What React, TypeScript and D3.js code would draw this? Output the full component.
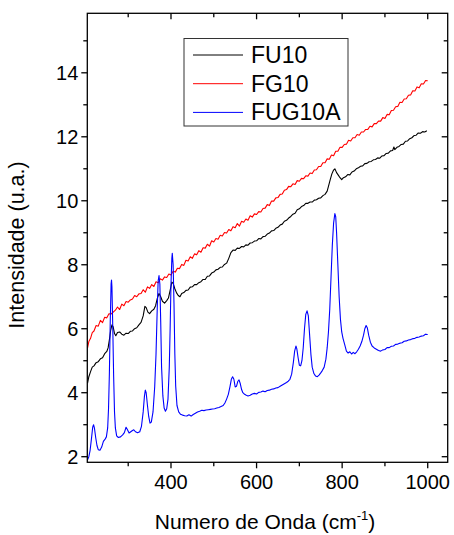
import React from "react";
import * as d3 from "d3";

type P = [number, number];

const fg10: P[] = [
  [205,5.40],[208,5.60],[212,5.70],[216,5.88],[220,5.93],[225,6.10],[230,6.08],[235,6.26],[240,6.19],[245,6.36],
  [250,6.34],[255,6.47],[260,6.46],[265,6.52],[270,6.58],[275,6.68],[280,6.60],[285,6.77],[290,6.72],[295,6.85],
  [300,6.83],[305,6.90],[310,6.93],[315,7.04],[320,7.00],[325,7.09],[330,7.10],[335,7.22],[340,7.14],[345,7.31],
  [350,7.26],[355,7.38],[360,7.32],[365,7.47],[370,7.44],[375,7.56],[380,7.52],[385,7.62],[390,7.60],[395,7.71],
  [400,7.68],[405,7.80],[410,7.77],[415,7.89],[420,7.88],[425,8.01],[430,7.98],[435,8.14],[440,8.12],[445,8.25],
  [450,8.20],[455,8.34],[460,8.31],[465,8.44],[470,8.39],[475,8.53],[480,8.52],[485,8.64],[490,8.58],[495,8.75],
  [500,8.71],[505,8.82],[510,8.80],[515,8.92],[520,8.90],[525,9.01],[530,8.99],[535,9.10],[540,9.06],[545,9.19],
  [550,9.16],[555,9.29],[560,9.21],[565,9.36],[570,9.33],[575,9.43],[580,9.39],[585,9.53],[590,9.49],[595,9.59],
  [600,9.57],[605,9.66],[610,9.65],[615,9.76],[620,9.77],[625,9.88],[630,9.85],[635,9.99],[640,9.99],[645,10.09],
  [650,10.10],[655,10.20],[660,10.21],[665,10.33],[670,10.35],[675,10.45],[680,10.44],[685,10.53],[690,10.51],[695,10.63],
  [700,10.61],[705,10.70],[710,10.69],[715,10.78],[720,10.77],[725,10.87],[730,10.85],[735,10.96],[740,10.97],[745,11.07],
  [750,11.07],[755,11.19],[760,11.19],[765,11.31],[770,11.30],[775,11.43],[780,11.41],[785,11.55],[790,11.55],[795,11.67],
  [800,11.67],[805,11.76],[810,11.77],[815,11.89],[820,11.87],[825,11.97],[830,11.97],[835,12.07],[840,12.05],[845,12.15],
  [850,12.15],[855,12.23],[860,12.23],[865,12.33],[870,12.31],[875,12.41],[880,12.41],[885,12.49],[890,12.49],[895,12.60],
  [900,12.57],[905,12.70],[910,12.69],[915,12.82],[920,12.83],[925,12.94],[930,12.95],[935,13.08],[940,13.07],[945,13.18],
  [950,13.19],[955,13.30],[960,13.31],[965,13.44],[970,13.43],[975,13.56],[980,13.53],[985,13.66],[990,13.65],[995,13.76],
  [1000,13.75],
];

const fu10: P[] = [
  [205,4.30],[208,4.50],[212,4.66],[216,4.80],[220,4.84],[225,4.94],[230,4.97],[235,5.06],[240,5.09],[245,5.22],
  [250,5.29],[253,5.40],[256,5.65],[259,5.95],[262,6.12],[265,6.05],[268,5.85],[271,5.78],[275,5.88],[280,5.90],
  [285,5.83],[290,5.80],[295,5.86],[300,5.85],[305,5.92],[310,5.93],[315,6.00],[320,6.03],[325,6.12],[330,6.20],
  [335,6.40],[339,6.70],[342,6.66],[346,6.52],[350,6.47],[355,6.56],[360,6.61],[364,6.72],[368,6.95],[372,7.10],
  [376,7.00],[380,6.86],[385,6.80],[390,6.88],[394,6.96],[398,7.20],[402,7.46],[405,7.42],[409,7.25],[413,7.12],
  [417,7.04],[421,7.00],[425,7.10],[430,7.13],[435,7.20],[440,7.21],[445,7.30],[450,7.31],[455,7.38],[460,7.38],
  [465,7.44],[470,7.47],[475,7.54],[480,7.54],[485,7.64],[490,7.65],[495,7.74],[500,7.77],[505,7.84],[510,7.86],
  [515,7.92],[520,7.93],[525,8.01],[530,8.05],[535,8.20],[540,8.38],[545,8.46],[550,8.45],[555,8.52],[560,8.51],
  [565,8.57],[570,8.56],[575,8.62],[580,8.61],[585,8.68],[590,8.69],[595,8.74],[600,8.75],[605,8.82],[610,8.81],
  [615,8.88],[620,8.89],[625,8.96],[630,8.99],[635,9.06],[640,9.07],[645,9.14],[650,9.17],[655,9.24],[660,9.27],
  [665,9.36],[670,9.39],[675,9.46],[680,9.51],[685,9.58],[690,9.61],[695,9.72],[700,9.75],[705,9.82],[710,9.85],
  [715,9.92],[720,9.92],[725,9.96],[730,9.96],[735,10.02],[740,10.03],[745,10.08],[750,10.09],[755,10.16],[760,10.20],
  [765,10.30],[768,10.45],[772,10.65],[776,10.84],[780,10.96],[783,11.00],[787,10.88],[791,10.80],[795,10.72],[799,10.66],
  [803,10.72],[808,10.75],[813,10.82],[818,10.81],[823,10.90],[828,10.93],[833,11.00],[838,11.03],[843,11.08],[848,11.09],
  [853,11.16],[858,11.17],[863,11.22],[868,11.23],[873,11.28],[878,11.29],[883,11.34],[888,11.33],[893,11.40],[898,11.41],
  [903,11.48],[908,11.49],[913,11.56],[918,11.57],[921,11.68],[923,11.60],[928,11.67],[933,11.70],[938,11.76],[943,11.77],
  [948,11.86],[953,11.87],[958,11.94],[963,11.97],[968,12.04],[973,12.05],[978,12.12],[983,12.11],[988,12.16],[993,12.15],
  [998,12.19],
];

const fug10a: P[] = [
  [205,1.90],[208,2.00],[211,2.20],[214,2.55],[217,2.92],[219,3.00],[221,2.90],[224,2.60],[227,2.35],[230,2.22],
  [234,2.20],[238,2.30],[242,2.48],[246,2.55],[249,2.62],[252,2.90],[254,3.50],[256,4.60],[258,6.20],[260,7.40],
  [261,7.52],[262,7.30],[264,6.00],[266,4.50],[268,3.40],[270,2.90],[273,2.65],[277,2.60],[282,2.62],[287,2.68],
  [291,2.75],[295,2.92],[298,2.85],[302,2.74],[306,2.78],[310,2.82],[313,2.84],[317,2.78],[322,2.75],[327,2.78],
  [331,2.95],[335,3.40],[338,3.90],[340,4.08],[342,4.00],[345,3.60],[348,3.25],[351,3.05],[354,3.08],[358,3.40],
  [362,4.20],[365,5.20],[368,6.70],[370,7.50],[372,7.66],[374,7.40],[376,6.20],[378,4.80],[381,3.90],[384,3.52],
  [387,3.42],[390,3.50],[393,3.80],[396,4.80],[398,6.00],[400,7.40],[402,8.20],[403,8.36],[405,8.00],[407,6.80],
  [409,5.20],[411,4.20],[414,3.60],[418,3.40],[422,3.33],[427,3.30],[432,3.28],[437,3.27],[442,3.31],[447,3.27],
  [452,3.32],[457,3.36],[462,3.40],[467,3.42],[472,3.45],[477,3.44],[482,3.46],[487,3.47],[492,3.48],[497,3.49],
  [502,3.50],[507,3.52],[512,3.54],[517,3.57],[522,3.60],[526,3.68],[530,3.80],[534,3.95],[538,4.20],[541,4.42],
  [544,4.50],[547,4.42],[550,4.18],[553,4.20],[556,4.35],[559,4.40],[562,4.28],[565,4.10],[568,4.00],[572,3.95],
  [576,3.92],[580,3.90],[585,3.92],[590,3.96],[595,3.98],[600,3.96],[605,4.01],[610,4.02],[615,4.05],[620,4.03],
  [625,4.07],[630,4.08],[635,4.11],[640,4.12],[645,4.15],[650,4.16],[655,4.20],[660,4.24],[665,4.28],[670,4.32],
  [674,4.36],[678,4.42],[682,4.58],[686,4.95],[689,5.30],[692,5.46],[694,5.38],[697,5.10],[700,4.86],[703,4.84],
  [706,5.00],[709,5.40],[712,6.00],[715,6.45],[718,6.56],[721,6.40],[724,5.80],[727,5.20],[730,4.80],[734,4.60],
  [738,4.52],[742,4.50],[746,4.55],[750,4.62],[754,4.70],[758,4.80],[762,5.05],[765,5.40],[768,5.90],[771,6.60],
  [774,7.60],[777,8.60],[780,9.30],[783,9.60],[785,9.50],[787,9.00],[790,8.00],[793,7.00],[796,6.30],[799,5.90],
  [802,5.70],[806,5.50],[810,5.30],[814,5.24],[818,5.28],[822,5.21],[826,5.26],[830,5.22],[834,5.28],[838,5.36],
  [842,5.46],[846,5.60],[850,5.80],[853,6.00],[856,6.10],[859,6.02],[862,5.80],[866,5.58],[870,5.46],[875,5.40],
  [880,5.36],[885,5.32],[890,5.30],[895,5.34],[900,5.35],[905,5.41],[910,5.41],[915,5.45],[920,5.46],[925,5.51],
  [930,5.52],[935,5.55],[940,5.56],[945,5.61],[950,5.62],[955,5.65],[960,5.66],[965,5.69],[970,5.70],[975,5.73],
  [980,5.74],[985,5.77],[990,5.78],[995,5.83],[1000,5.82],
];

const seriesNames = ["FU10", "FG10", "FUG10A"];
const seriesColors = ["#000000", "#ff0000", "#0000ff"];
const seriesData = [fu10, fg10, fug10a];

const xMajorTicks = [400, 600, 800, 1000];
const xMinorTicks = [300, 500, 700, 900];
const yMajorTicks = [2, 4, 6, 8, 10, 12, 14];
const yMinorTicks = [3, 5, 7, 9, 11, 13, 15];

const W = 454, H = 535;
const L = 87.3, R = 447.7, T = 13.3, B = 462.3;

export default function App() {
  const x = d3.scaleLinear().domain([204.4, 1046.7]).range([L, R]);
  const y = d3.scaleLinear().domain([1.825, 15.86]).range([B, T]);
  const line = d3.line<P>().x((d) => x(d[0])).y((d) => y(d[1]));
  const font = "'Liberation Sans', Arial, sans-serif";
  const order = [1, 0, 2];
  const major = 6, minor = 4;
  return (
    <svg width={W} height={H} style={{ position: "absolute", left: 0, top: 0, display: "block" }} fontFamily={font}>
      <rect x={0} y={0} width={W} height={H} fill="#fff" />
      <defs>
        <clipPath id="plot"><rect x={L} y={T} width={R - L} height={B - T} /></clipPath>
      </defs>
      <g clipPath="url(#plot)" fill="none" strokeWidth={1.1} strokeLinejoin="round">
        {order.map((i) => (
          <path key={i} d={line(seriesData[i]) || ""} stroke={seriesColors[i]} />
        ))}
      </g>
      <rect x={L} y={T} width={R - L} height={B - T} fill="none" stroke="#000" strokeWidth={1.3} />
      <g stroke="#000" strokeWidth={1.3}>
        {xMajorTicks.map((t) => (
          <g key={"xm" + t}>
            <line x1={x(t)} x2={x(t)} y1={B} y2={B + major} />
            <line x1={x(t)} x2={x(t)} y1={T} y2={T + major} />
          </g>
        ))}
        {xMinorTicks.map((t) => (
          <g key={"xn" + t}>
            <line x1={x(t)} x2={x(t)} y1={B} y2={B + minor} />
            <line x1={x(t)} x2={x(t)} y1={T} y2={T + minor} />
          </g>
        ))}
        {yMajorTicks.map((t) => (
          <g key={"ym" + t}>
            <line x1={L - major} x2={L} y1={y(t)} y2={y(t)} />
            <line x1={R - major} x2={R} y1={y(t)} y2={y(t)} />
          </g>
        ))}
        {yMinorTicks.map((t) => (
          <g key={"yn" + t}>
            <line x1={L - minor} x2={L} y1={y(t)} y2={y(t)} />
            <line x1={R - minor} x2={R} y1={y(t)} y2={y(t)} />
          </g>
        ))}
      </g>
      <g fontSize={20} fill="#000">
        {xMajorTicks.map((t) => (
          <text key={"xl" + t} x={x(t)} y={B + 27} textAnchor="middle">{t}</text>
        ))}
        {yMajorTicks.map((t) => (
          <text key={"yl" + t} x={L - 9} y={y(t) + 7} textAnchor="end">{t}</text>
        ))}
      </g>
      <text x={265} y={529} textAnchor="middle" fontSize={21}>
        Numero de Onda (cm<tspan dy={-9} fontSize={13}>-1</tspan><tspan dy={9}>)</tspan>
      </text>
      <text transform={`translate(24, 245) rotate(-90)`} textAnchor="middle" fontSize={21.5}>Intensidade (u.a.)</text>
      <g>
        <rect x={184} y={38.5} width={164} height={87.5} fill="#fff" stroke="#333" strokeWidth={1} />
        {seriesNames.map((n, i) => (
          <g key={n}>
            <line x1={193} x2={243} y1={55 + i * 28.7} y2={55 + i * 28.7} stroke={seriesColors[i]} strokeWidth={1} />
            <text x={251} y={55 + i * 28.7 + 8} fontSize={23}>{n}</text>
          </g>
        ))}
      </g>
    </svg>
  );
}
